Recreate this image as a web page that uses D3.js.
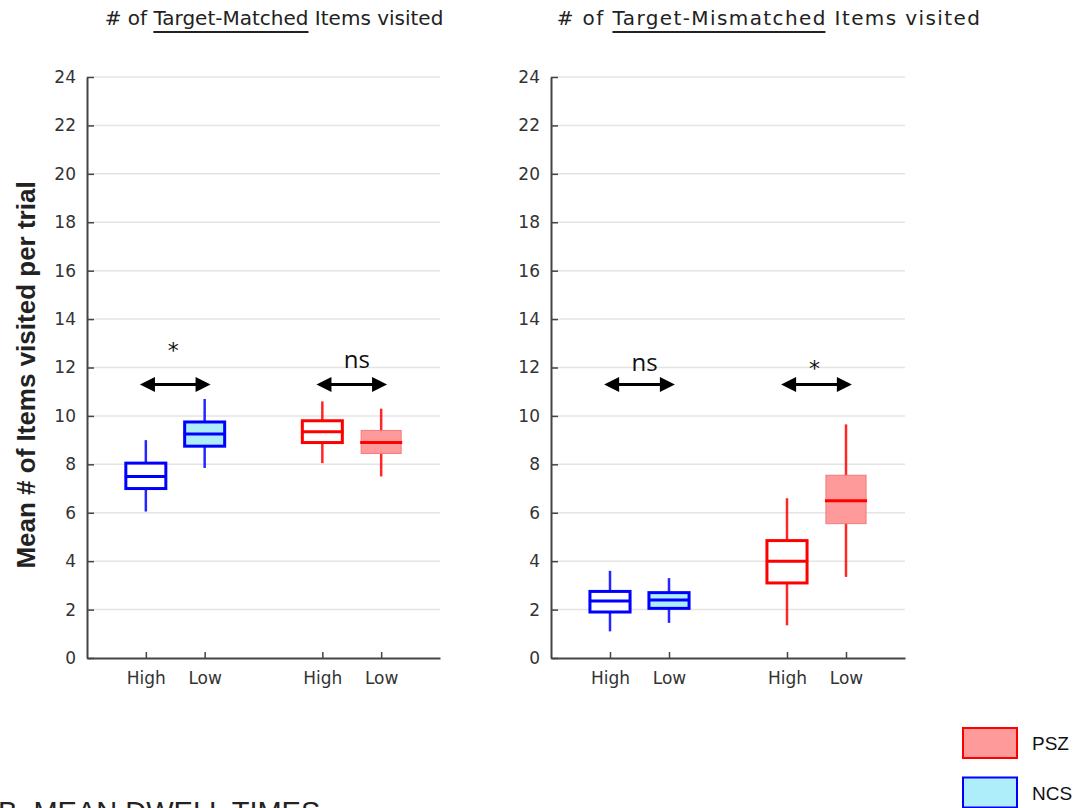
<!DOCTYPE html>
<html lang="en">

<head>
    <meta charset="UTF-8" />
    <title>Items visited</title>
    <script src="https://cdn.jsdelivr.net/npm/d3@7"></script>
    <style>
        body { margin: 0; background: #fff; }
    </style>
</head>

<body>
<script>
    // categories
    const conditions = ["High", "Low", "High", "Low"];
    const groups = ["NCS", "NCS", "PSZ", "PSZ"];
    const slots = [1, 2, 4, 5];
    const yTicks = [0, 2, 4, 6, 8, 10, 12, 14, 16, 18, 20, 22, 24];

    // [lower whisker, q1, median, q3, upper whisker]
    const matchedNcsHigh = [6.05, 7.0, 7.5, 8.05, 9.0];
    const matchedNcsLow = [7.85, 8.75, 9.25, 9.75, 10.7];
    const matchedPszHigh = [8.05, 8.9, 9.35, 9.8, 10.6];
    const matchedPszLow = [7.5, 8.45, 8.9, 9.4, 10.3];
    const mismatchedNcsHigh = [1.1, 1.9, 2.35, 2.75, 3.6];
    const mismatchedNcsLow = [1.45, 2.05, 2.4, 2.7, 3.3];
    const mismatchedPszHigh = [1.35, 3.1, 4.0, 4.85, 6.6];
    const mismatchedPszLow = [3.35, 5.55, 6.5, 7.55, 9.65];

    // significance between High/Low pairs
    const matchedSig = ["*", "ns"];
    const mismatchedSig = ["ns", "*"];
    const sigLevel = 11.3;

    const legendGroups = ["PSZ", "NCS"];

    let w = 1078;
    let h = 808;

    let svg = d3.select("body").append("svg")
        .attr("width", w)
        .attr("height", h);

    let y = d3.scaleLinear().domain([0, 24]).range([658, 77]);

    const lineColor = { NCS: "#0000ff", PSZ: "#ff0000" };
    const lowFill = { NCS: "#aeeefb", PSZ: "#ff9a9a" };

    let panels = [
        {
            pre: "# of ", key: "Target-Matched", post: " Items visited",
            x0: 87, x1: 440, titleX: 274, spacing: 0,
            boxes: [matchedNcsHigh, matchedNcsLow, matchedPszHigh, matchedPszLow],
            sig: matchedSig, lift: { "*": 26, "ns": 16 }
        },
        {
            pre: "# of ", key: "Target-Mismatched", post: " Items visited",
            x0: 551, x1: 905, titleX: 769, spacing: 1.4,
            boxes: [mismatchedNcsHigh, mismatchedNcsLow, mismatchedPszHigh, mismatchedPszLow],
            sig: mismatchedSig, lift: { "*": 8, "ns": 13 }
        }
    ];

    panels.forEach(function (p) {
        let x = d3.scaleLinear().domain([0, 6]).range([p.x0, p.x1]);
        let step = x(1) - x(0);
        let bw = step * 0.68;
        let g = svg.append("g");

        // grid
        g.selectAll(".grid")
            .data(yTicks.filter(d => d > 0))
            .enter().append("line")
            .attr("x1", p.x0).attr("x2", p.x1)
            .attr("y1", d => y(d)).attr("y2", d => y(d))
            .attr("stroke", "#e4e4e4")
            .attr("stroke-width", 1.5);

        // axes
        let ya = g.append("g")
            .attr("transform", "translate(" + p.x0 + ",0)")
            .call(d3.axisLeft(y).tickValues(yTicks).tickSize(-7).tickSizeOuter(0).tickPadding(11));
        let xa = g.append("g")
            .attr("transform", "translate(0," + y(0) + ")")
            .call(d3.axisBottom(x).tickValues(slots).tickSize(-6).tickSizeOuter(0).tickPadding(14)
                .tickFormat((d, i) => conditions[i]));
        [ya, xa].forEach(function (a) {
            a.select(".domain").attr("stroke", "#444").attr("stroke-width", 2);
            a.selectAll(".tick line").attr("stroke", "#444").attr("stroke-width", 1.5);
            a.selectAll(".tick text")
                .attr("fill", "#333")
                .style("font-family", "'DejaVu Sans', Verdana, sans-serif")
                .style("font-size", "17px");
        });

        // boxes
        p.boxes.forEach(function (s, i) {
            let cx = x(slots[i]);
            let col = lineColor[groups[i]];
            let low = conditions[i] == "Low";
            let b = g.append("g");
            b.append("line")
                .attr("x1", cx).attr("x2", cx)
                .attr("y1", y(s[0])).attr("y2", y(s[4]))
                .attr("stroke", col).attr("stroke-width", 2.5)
                .attr("stroke-opacity", 0.85);
            b.append("rect")
                .attr("x", cx - bw / 2).attr("width", bw)
                .attr("y", y(s[3])).attr("height", y(s[1]) - y(s[3]))
                .attr("fill", low ? lowFill[groups[i]] : "#fff")
                .attr("stroke", low && groups[i] == "PSZ" ? "#f07c7c" : col)
                .attr("stroke-width", low && groups[i] == "PSZ" ? 1 : 3);
            b.append("line")
                .attr("x1", cx - bw / 2 - 1).attr("x2", cx + bw / 2 + 1)
                .attr("y1", y(s[2])).attr("y2", y(s[2]))
                .attr("stroke", col).attr("stroke-width", 3);
        });

        // significance arrows
        p.sig.forEach(function (lab, k) {
            let mid = (slots[2 * k] + slots[2 * k + 1]) / 2;
            let a = x(mid - 0.6), c = x(mid + 0.6), yy = y(sigLevel);
            let hl = 15, hw = 7.5;
            g.append("line")
                .attr("x1", a + hl - 2).attr("x2", c - hl + 2)
                .attr("y1", yy).attr("y2", yy)
                .attr("stroke", "#000").attr("stroke-width", 3);
            g.append("path")
                .attr("d", "M" + a + "," + yy + "L" + (a + hl) + "," + (yy - hw) + "L" + (a + hl) + "," + (yy + hw) + "Z")
                .attr("fill", "#000");
            g.append("path")
                .attr("d", "M" + c + "," + yy + "L" + (c - hl) + "," + (yy - hw) + "L" + (c - hl) + "," + (yy + hw) + "Z")
                .attr("fill", "#000");
            g.append("text")
                .attr("x", x(mid) + (lab == "ns" ? 5 : -2))
                .attr("y", yy - p.lift[lab])
                .attr("text-anchor", "middle")
                .style("font-family", lab == "ns" ? "'Open Sans', sans-serif" : "'DejaVu Sans', sans-serif")
                .style("font-size", lab == "ns" ? "24px" : "22px")
                .attr("fill", "#111")
                .text(lab);
        });

        // title with underlined key word
        let t = g.append("text")
            .attr("x", p.titleX).attr("y", 25)
            .attr("text-anchor", "middle")
            .style("font-family", "'DejaVu Sans', Verdana, sans-serif")
            .style("font-size", "20px")
            .style("letter-spacing", p.spacing + "px")
            .attr("fill", "#222");
        t.append("tspan").text(p.pre);
        t.append("tspan").text(p.key);
        t.append("tspan").text(p.post);
        let node = t.node();
        let s0 = node.getStartPositionOfChar(p.pre.length).x;
        let e = node.getExtentOfChar(p.pre.length + p.key.length - 1);
        g.append("line")
            .attr("x1", s0).attr("x2", e.x + e.width - p.spacing)
            .attr("y1", 32).attr("y2", 32)
            .attr("stroke", "#222").attr("stroke-width", 2);
    });

    // y label
    svg.append("text")
        .attr("transform", "translate(35," + 375 + ") rotate(-90)")
        .attr("text-anchor", "middle")
        .style("font-family", "'Liberation Sans', Arial, sans-serif")
        .style("font-weight", "bold")
        .style("font-size", "26px")
        .attr("fill", "#222")
        .text("Mean # of Items visited per trial");

    // legend
    let leg = svg.selectAll(".leg")
        .data(legendGroups)
        .enter().append("g")
        .attr("class", "leg")
        .attr("transform", (d, i) => "translate(963," + (728 + i * 49.5) + ")");
    leg.append("rect")
        .attr("width", 54).attr("height", 30)
        .attr("fill", d => lowFill[d])
        .attr("stroke", d => lineColor[d])
        .attr("stroke-width", 2);
    leg.append("text")
        .attr("x", 69).attr("y", 22)
        .style("font-family", "'Liberation Sans', Arial, sans-serif")
        .style("font-size", "19px")
        .attr("fill", "#111")
        .text(d => d);

    // next section heading, cut by the page edge as in the source figure
    svg.append("text")
        .attr("x", -2).attr("y", 822)
        .style("font-family", "'Liberation Sans', Arial, sans-serif")
        .style("font-size", "29px")
        .attr("fill", "#222")
        .text("B. MEAN DWELL TIMES");
</script>
</body>

</html>
